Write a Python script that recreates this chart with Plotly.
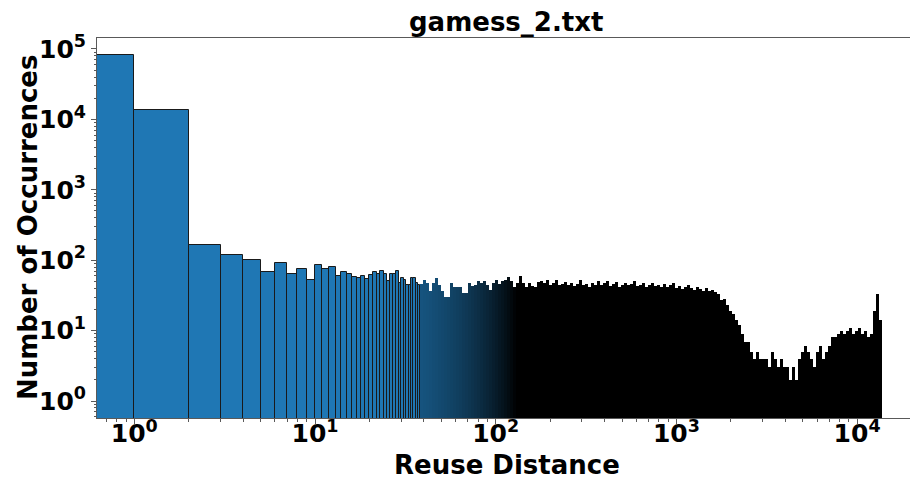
import numpy as np
import plotly.graph_objects as go

# ---------------- data ----------------
# individual integer bins [n, n+1) for n = 0..37
unit_bin_left = list(range(0, 38))
unit_counts = [82000, 13400, 164, 120, 100, 68, 90, 63, 76, 52,
               85, 74, 81, 60, 67, 64, 58, 56, 60, 54,
               61, 68, 64, 71, 64, 50, 64, 64, 70, 47,
               56, 53, 45, 45, 55, 56, 47, 45]

# dense tail: grouped reuse-distance bins between 38 and 13680
dense_lo = 38
dense_hi = 13680
dense_counts = [46, 52, 48, 37, 48, 56, 45, 36, 30, 30,
                47, 42, 41, 42, 34, 34, 48, 43, 45, 51,
                48, 51, 45, 38, 48, 53, 46, 51, 53, 58,
                51, 42, 47, 59, 47, 42, 48, 43, 41, 49,
                50, 47, 52, 45, 48, 53, 44, 46, 49, 45,
                47, 43, 46, 52, 44, 46, 42, 48, 45, 50,
                44, 47, 51, 43, 46, 49, 42, 45, 48, 44,
                46, 50, 43, 45, 48, 42, 44, 47, 43, 45,
                42, 46, 41, 44, 47, 40, 43, 39, 42, 44,
                40, 38, 42, 39, 37, 40, 36, 38, 35, 33,
                27, 28, 23, 19, 17, 14, 12, 9, 7, 7,
                5, 4, 5, 4, 4, 4, 3, 5, 4, 3,
                4, 3, 3, 2, 3, 2, 4, 5, 6, 5,
                4, 3, 5, 6, 4, 5, 6, 8, 8, 9,
                10, 9, 10, 11, 9, 10, 11, 9, 10, 8,
                9, 19, 33, 14]

title_text = "gamess_2.txt"
x_title = "Reuse Distance"
y_title = "Number of Occurrences"
x_tick_exps = [0, 1, 2, 3, 4]
y_tick_exps = [0, 1, 2, 3, 4, 5]

# ---------------- layout constants ----------------
W, H = 910, 479
ML, MR, MT, MB = 97, 0, 38, 61
XR = [-0.2064, -0.2064 + (W - ML - MR) / 180.7]
YR = [-0.2415, 5.156]
BLUE = (31, 119, 180)
FONT = "DejaVu Sans"
AX = "rgba(0,0,0,0.65)"

fig = go.Figure()

# individual bars (blue with black outline)
u_left = np.array(unit_bin_left, dtype=float)
u_right = u_left + 1
fig.add_trace(go.Bar(
    x=(u_left + u_right) / 2, y=unit_counts, width=u_right - u_left,
    marker=dict(color="rgb(31,119,180)", line=dict(color="#1a1a1a", width=1)),
    hoverinfo="skip"))

# dense tail: colour darkens as unit bins become thinner than the edge line
edges = np.geomspace(dense_lo, dense_hi, len(dense_counts) + 1)
d_left, d_right = edges[:-1], edges[1:]
px_per_dec = (W - ML - MR) / (XR[1] - XR[0])
mid = np.sqrt(d_left * d_right)
unit_px = px_per_dec * np.log10(1 + 1 / mid)
frac = np.clip(0.6 / unit_px, 0, 1)
cols = ["rgb(%d,%d,%d)" % tuple(int(round(c * (1 - f))) for c in BLUE) for f in frac]
fig.add_trace(go.Bar(
    x=(d_left + d_right) / 2, y=dense_counts, width=d_right - d_left,
    marker=dict(color=cols, line=dict(width=0)),
    hoverinfo="skip"))

def minor_vals(lo, hi):
    return [m * 10 ** k for k in range(lo, hi) for m in range(2, 10)]

tickfont = dict(family=FONT, size=25, color="black", weight="bold")
fig.update_xaxes(
    type="log", range=XR, showgrid=False, zeroline=False,
    showline=True, linecolor=AX, linewidth=1, mirror=True,
    tickmode="array", tickvals=[10 ** e for e in x_tick_exps],
    ticktext=["10<sup>%d</sup>" % e for e in x_tick_exps],
    ticks="outside", ticklen=5, tickcolor=AX, tickwidth=1,
    tickfont=tickfont, ticklabelstandoff=-12,
    minor=dict(tickmode="array", tickvals=minor_vals(-1, 5), ticks="outside",
               ticklen=2.5, tickcolor=AX, tickwidth=1, showgrid=False))
fig.update_yaxes(
    type="log", range=YR, showgrid=False, zeroline=False,
    showline=True, linecolor=AX, linewidth=1, mirror=False,
    tickmode="array", tickvals=[10 ** e for e in y_tick_exps],
    ticktext=["10<sup>%d</sup>" % e for e in y_tick_exps],
    ticks="outside", ticklen=5, tickcolor=AX, tickwidth=1,
    tickfont=tickfont,
    minor=dict(tickmode="array", tickvals=minor_vals(-1, 6), ticks="outside",
               ticklen=2.5, tickcolor=AX, tickwidth=1, showgrid=False))

labfont = dict(family=FONT, size=26, color="black", weight="bold")
fig.add_annotation(text=title_text, xref="paper", yref="paper",
                   x=(506 - ML) / (W - ML - MR), y=1 + 16 / (H - MT - MB),
                   xanchor="center", yanchor="middle", showarrow=False, font=labfont)
fig.add_annotation(text=x_title, xref="paper", yref="paper",
                   x=(507 - ML) / (W - ML - MR), y=-(465 - (H - MB)) / (H - MT - MB),
                   xanchor="center", yanchor="middle", showarrow=False, font=labfont)
fig.add_annotation(text=y_title, xref="paper", yref="paper",
                   x=-(ML - 28) / (W - ML - MR), y=0.5, textangle=-90,
                   xanchor="center", yanchor="middle", showarrow=False, font=labfont)

fig.update_layout(width=W, height=H, margin=dict(l=ML, r=MR, t=MT, b=MB, autoexpand=False),
                  plot_bgcolor="white", paper_bgcolor="white",
                  barmode="overlay", bargap=0, bargroupgap=0, showlegend=False)

fig.write_html("out.html")
